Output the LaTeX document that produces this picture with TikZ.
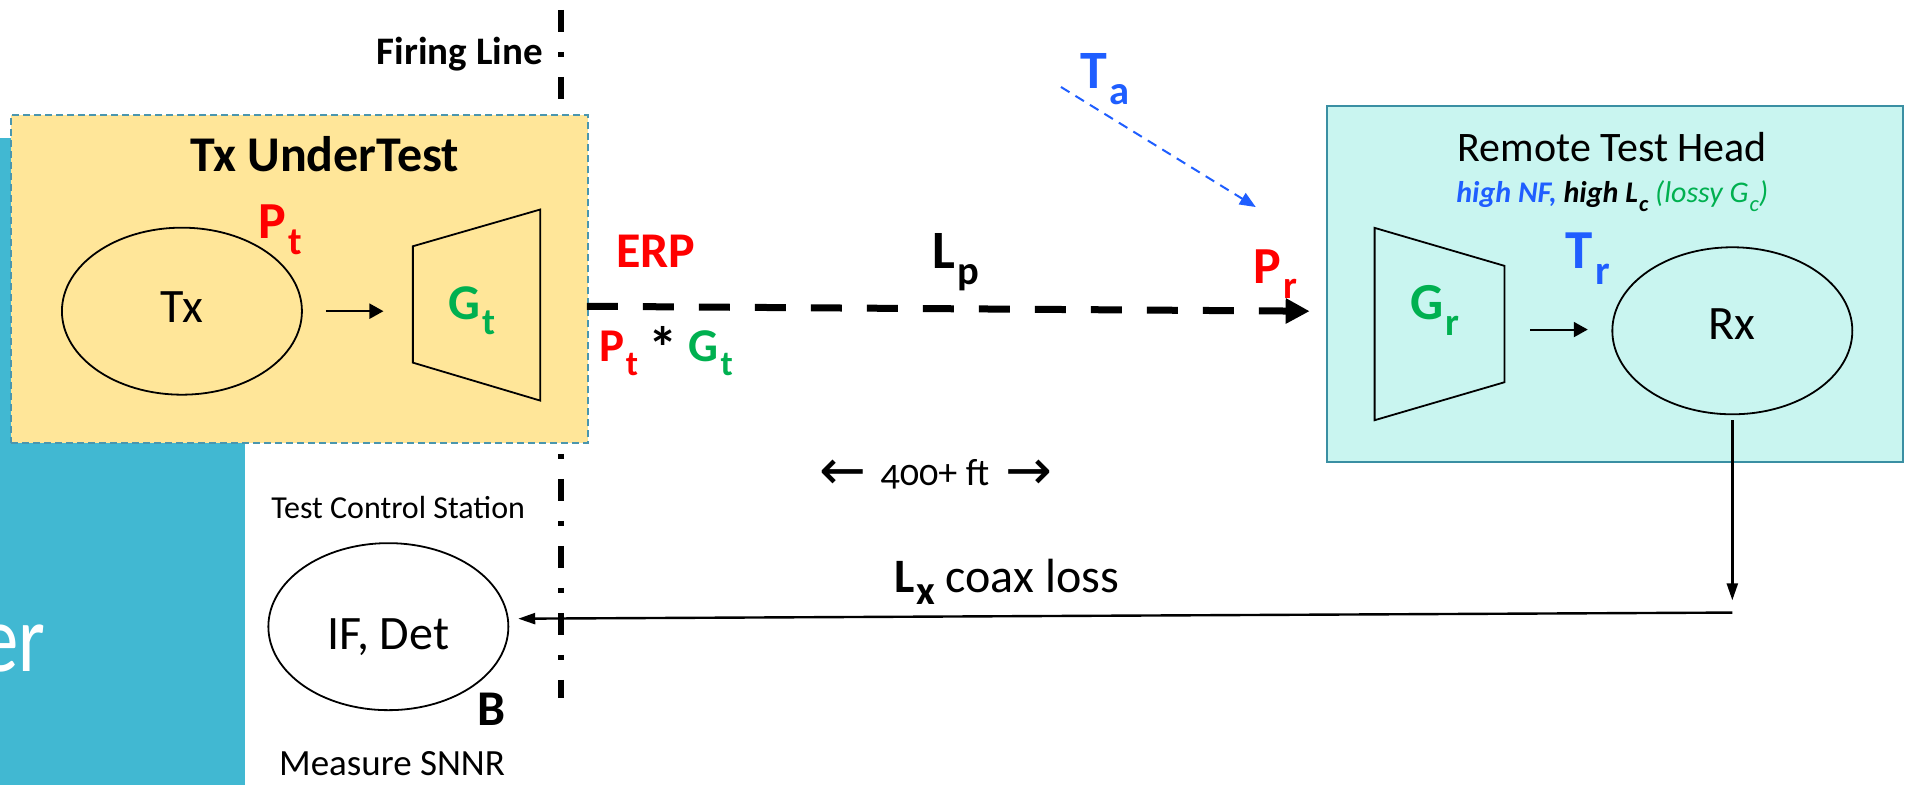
\documentclass[tikz,border=0pt]{standalone}
\usepackage{fontspec}
\usepackage{graphicx}
\setmainfont{Carlito}
\newfontfamily\arrowfont{DejaVu Sans}
\usetikzlibrary{shapes.geometric,arrows.meta}

\definecolor{panelblue}{HTML}{41B8D2}
\definecolor{txfill}{HTML}{FFE699}
\definecolor{txedge}{HTML}{4A96AE}
\definecolor{rxfill}{HTML}{C9F5F0}
\definecolor{rxedge}{HTML}{3A8FA3}
\definecolor{sigred}{HTML}{FF0000}
\definecolor{gaingreen}{HTML}{00B050}
\definecolor{tempblue}{HTML}{1F5EFF}

% lowered, reduced subscript used in the signal labels
\newcommand\lsub[1]{\kern0.04em\raisebox{-0.3em}{\scalebox{0.75}{#1}}}
\newcommand\fsz[1]{\fontsize{#1}{#1}\selectfont}
\newcommand\bigstar{\raisebox{-0.16em}{\scalebox{1.25}{*}}}
\newcommand\thinarrow[1]{\raisebox{-4pt}{\arrowfont\fsz{56}#1}}

\tikzset{
  txt/.style={inner sep=0pt, outer sep=0pt},
  unit/.style={ellipse, draw=black, line width=1.8pt, inner sep=0pt,
               minimum width=240pt, minimum height=167pt},
  unitlabel/.style={inner sep=0pt, outer sep=0pt, anchor=base, font=\fsz{48}},
  horn/.style={draw=black, line width=1.8pt, line join=miter},
  flowarrow/.style={line width=2pt, -{Triangle[length=14pt,width=15pt]}},
  beam/.style={line width=7pt, dash pattern=on 31pt off 25pt,
               -{Triangle[length=24pt,width=24pt]}},
  skyarrow/.style={tempblue, line width=2pt, dash pattern=on 10pt off 7pt,
               -{Triangle[length=16pt,width=13pt]}},
  coax/.style={line width=2.4pt, -{Triangle[length=17pt,width=11pt]}},
  firing/.style={line width=6pt, dash pattern=on 22pt off 20pt on 5pt off 20pt},
}

\begin{document}
\begin{tikzpicture}[x=1.2251pt, y=-1.2251pt]
\useasboundingbox (0,0) rectangle (1568,641);

% side panel of the slide
\fill[panelblue] (0,113) rectangle (200,641);
\node[txt, anchor=base west, text=white, font=\fsz{96}] (er) at (-16,548.5) {\scalebox{0.8}[1]{er}};

% firing line (behind the transmitter box)
\coordinate (fltop) at (458,8);
\coordinate (flbot) at (458,570);
\draw[firing] (fltop) -- (flbot);
\node[txt, anchor=base east, font=\bfseries\fsz{39}] (firing) at (443,53) {Firing Line};

% transmitter under test
\node[draw=txedge, fill=txfill, line width=1.8pt, dash pattern=on 7pt off 4pt,
      minimum width=577pt, minimum height=328pt, inner sep=0pt] (txbox) at (244.5,228) {};
\node[txt, anchor=base, font=\bfseries\fsz{50}] (txtitle) at (265,140) {Tx UnderTest};
\node[unit] (tx) at (148.5,254) {};
\node[unitlabel] (txl) at (148.5,263) {Tx};
\node[txt, anchor=base west, text=sigred, font=\bfseries\fsz{52}] (pt) at (211,195) {P\lsub{t}};
\draw[horn] (337,201) -- (441,171) -- (441,327) -- (337,296) -- cycle;
\node[txt, anchor=base west, text=gaingreen, font=\bfseries\fsz{50}] (gt) at (366,261) {G\lsub{t}};
\coordinate (a1s) at (266,254);
\coordinate (a1e) at (313,254);
\draw[flowarrow] (a1s) -- (a1e);

% radiated path
\coordinate (beams) at (479,250);
\coordinate (beame) at (1069,254);
\draw[beam] (beams) -- (beame);
\node[txt, anchor=base west, text=sigred, font=\bfseries\fsz{50}] (erp) at (503,218) {ERP};
\node[txt, anchor=base west, font=\bfseries\fsz{47}] (ptgt) at (489,295)
  {\textcolor{sigred}{P\lsub{t}} \bigstar\ \textcolor{gaingreen}{G\lsub{t}}};
\node[txt, anchor=base west, font=\bfseries\fsz{54}] (lp) at (761,219) {L\lsub{p}};
\node[txt, anchor=base west, text=sigred, font=\bfseries\fsz{52}] (pr) at (1023,231) {P\lsub{r}};
\node[txt, anchor=base west, text=tempblue, font=\bfseries\fsz{54}] (ta) at (882,72) {T\lsub{a}};
\coordinate (skys) at (866,71);
\coordinate (skye) at (1025,169);
\draw[skyarrow] (skys) -- (skye);

% remote test head
\node[draw=rxedge, fill=rxfill, line width=1.8pt,
      minimum width=576pt, minimum height=356pt, inner sep=0pt] (rxbox) at (1318,231.5) {};
\node[txt, anchor=base, font=\fsz{42}] (rxtitle) at (1316,132) {Remote Test Head};
\node[txt, anchor=base, font=\fsz{30}] (rxnote) at (1316,165)
  {\textcolor{tempblue}{\bfseries\itshape high NF,} {\bfseries\itshape high L\lsub{c}}
   \textcolor{gaingreen}{\itshape (lossy G\lsub{c})}};
\draw[horn] (1122,186) -- (1228,217) -- (1228,312) -- (1122,343) -- cycle;
\node[txt, anchor=base west, text=gaingreen, font=\bfseries\fsz{52}] (gr) at (1151,261) {G\lsub{r}};
\node[txt, anchor=base west, text=tempblue, font=\bfseries\fsz{55}] (tr) at (1278,219) {T\lsub{r}};
\node[unit] (rx) at (1414,270) {};
\node[unitlabel] (rxl) at (1414,277.5) {Rx};
\coordinate (a2s) at (1249,269);
\coordinate (a2e) at (1296,269);
\draw[flowarrow] (a2s) -- (a2e);

% distance
\node[txt, anchor=base, font=\fsz{38}] (dist) at (764,396)
  {\thinarrow{←}\hspace{14pt}{\addfontfeatures{Numbers=OldStyle}400+ ft}\hspace{16pt}\thinarrow{→}};

% coax run back to the control station
\coordinate (rxdown) at (1414,490);
\draw[coax, shorten <=5pt] (rx.south) -- (rxdown);
\coordinate (cx1) at (1414,500);
\coordinate (cx2) at (423,505);
\draw[coax] (cx1) -- (cx2);
\node[txt, anchor=base west, font=\fsz{48}] (lx) at (730,484)
  {\textbf{L\kern0.03em\raisebox{-0.25em}{\scalebox{0.85}{x}}} coax loss};

% test control station
\node[txt, anchor=base, font=\fsz{32}] (tcs) at (325,423) {Test Control Station};
\node[unit] (ifdet) at (317,511.5) {};
\node[unitlabel] (ifdetl) at (317,530) {IF, Det};
\node[txt, anchor=base west, font=\bfseries\fsz{50}] (bw) at (390,592) {B};
\node[txt, anchor=base, font=\fsz{37}] (snnr) at (320,633) {Measure SNNR};
\end{tikzpicture}
\end{document}
